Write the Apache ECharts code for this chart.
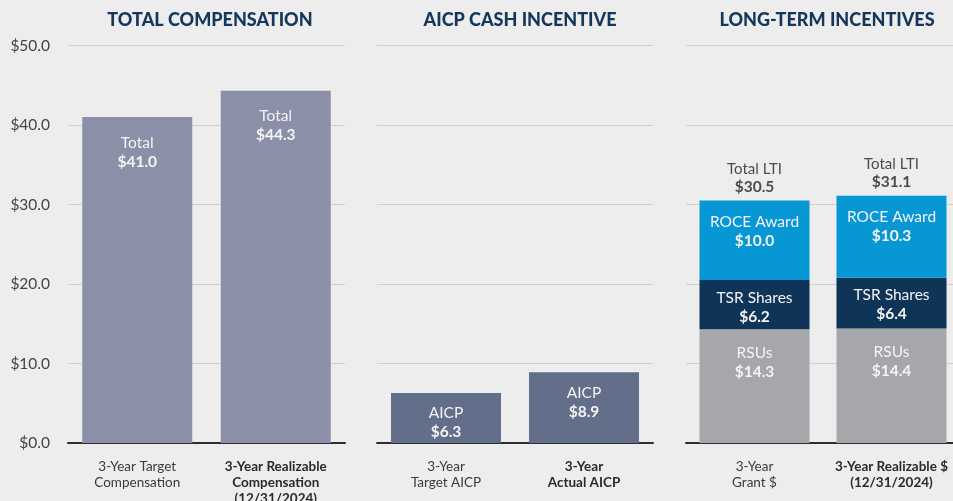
<!DOCTYPE html>
<html>
<head>
<meta charset="utf-8">
<script src="https://cdn.jsdelivr.net/npm/echarts@6/dist/echarts.min.js"></script>
<style>
  html, body { margin: 0; padding: 0; background: #ededed; }
  #chart { width: 953px; height: 501px; }
</style>
</head>
<body>
<div id="chart"></div>
<script>
// panel titles
var panelTitles = ['TOTAL COMPENSATION', 'AICP CASH INCENTIVE', 'LONG-TERM INCENTIVES'];

// total compensation
var compCats = ['3-Year Target\nCompensation', '3-Year Realizable\nCompensation\n(12/31/2024)'];
var compValues = [41.0, 44.3];

// aicp
var aicpCats = ['3-Year\nTarget AICP', '3-Year\nActual AICP'];
var aicpValues = [6.3, 8.9];

// long-term incentives
var ltiCats = ['3-Year\nGrant $', '3-Year Realizable $\n(12/31/2024)'];
var rsuValues = [14.3, 14.4];
var tsrValues = [6.2, 6.4];
var roceValues = [10.0, 10.3];
var ltiTotals = [30.5, 31.1];

var yTicks = [0, 10, 20, 30, 40, 50];

var FONT = 'Lato';
var grids = [
  { left: 68, width: 277, top: 45.5, bottom: 58, outerBoundsMode: 'none' },
  { left: 377, width: 276, top: 45.5, bottom: 58, outerBoundsMode: 'none' },
  { left: 686, width: 274, top: 45.5, bottom: 58, outerBoundsMode: 'none' }
];
var titleX = [205, 515, 822];

function money(v) { return '$' + v.toFixed(1); }

// bold text for the "realizable / actual" category (index 1)
function catLabel(value, index) {
  var tag = index == 1 ? 'b' : 'a';
  return value.split('\n').map(function (s) { return '{' + tag + '|' + s + '}'; }).join('\n');
}

function xAxisFor(i, cats) {
  return {
    type: 'category', gridIndex: i, data: cats,
    axisTick: { show: false },
    axisLine: { lineStyle: { color: '#2e2e2e', width: 2 } },
    axisLabel: {
      interval: 0, margin: 16, formatter: catLabel, hideOverlap: false,
      rich: {
        a: { fontFamily: FONT, fontSize: 13.5, color: '#3a3a3a', lineHeight: 16 },
        b: { fontFamily: FONT, fontSize: 13.5, fontWeight: 'bold', color: '#2a2a2a', lineHeight: 16 }
      }
    }
  };
}

function yAxisFor(i) {
  return {
    type: 'value', gridIndex: i, min: yTicks[0], max: yTicks[yTicks.length - 1], interval: 10,
    axisLine: { show: false }, axisTick: { show: false },
    axisLabel: {
      show: i == 0, margin: 18, fontFamily: FONT, fontSize: 15.5, color: '#444',
      formatter: function (v) { return money(v); }
    },
    splitLine: { lineStyle: { color: '#cfcfcf', width: 1 } }
  };
}

function innerLabel(name, dist) {
  return {
    show: true, position: 'insideTop', distance: dist,
    formatter: function (p) { return '{a|' + name + '}\n{b|' + money(p.value) + '}'; },
    rich: {
      a: { fontFamily: FONT, fontSize: 15.5, color: '#f4f4f4', lineHeight: 19 },
      b: { fontFamily: FONT, fontSize: 15.5, fontWeight: 'bold', color: '#f4f4f4', lineHeight: 19 }
    }
  };
}

var chart = echarts.init(document.getElementById('chart'));

var option = {
  backgroundColor: '#ededed',
  animation: false,
  title: panelTitles.map(function (t, i) {
    return {
      text: t, left: titleX[i], top: 6, textAlign: 'center',
      textStyle: { fontFamily: FONT, fontSize: 18, fontWeight: 900, color: '#15375b' }
    };
  }),
  grid: grids,
  xAxis: [xAxisFor(0, compCats), xAxisFor(1, aicpCats), xAxisFor(2, ltiCats)],
  yAxis: [yAxisFor(0), yAxisFor(1), yAxisFor(2)],
  series: [
    {
      type: 'bar', xAxisIndex: 0, yAxisIndex: 0, data: compValues, barWidth: 110,
      itemStyle: { color: '#8b8fa7' }, label: innerLabel('Total', 16)
    },
    {
      type: 'bar', xAxisIndex: 1, yAxisIndex: 1, data: aicpValues, barWidth: 110,
      itemStyle: { color: '#636e8b' }, label: innerLabel('AICP', 11)
    },
    {
      name: 'RSUs', type: 'bar', stack: 'lti', xAxisIndex: 2, yAxisIndex: 2, data: rsuValues, barWidth: 110,
      itemStyle: { color: '#a6a7ab' }, label: innerLabel('RSUs', 14)
    },
    {
      name: 'TSR Shares', type: 'bar', stack: 'lti', xAxisIndex: 2, yAxisIndex: 2, data: tsrValues, barWidth: 110,
      itemStyle: { color: '#0e3558' }, label: innerLabel('TSR Shares', 8)
    },
    {
      name: 'ROCE Award', type: 'bar', stack: 'lti', xAxisIndex: 2, yAxisIndex: 2, data: roceValues, barWidth: 110,
      itemStyle: { color: '#0797d5' }, label: innerLabel('ROCE Award', 12)
    },
    {
      // total labels above the stacks
      type: 'scatter', xAxisIndex: 2, yAxisIndex: 2, data: ltiTotals, symbolSize: 1,
      itemStyle: { color: 'rgba(0,0,0,0)' },
      label: {
        show: true, position: 'top', distance: 4,
        formatter: function (p) { return '{a|Total LTI}\n{b|' + money(p.value) + '}'; },
        rich: {
          a: { fontFamily: FONT, fontSize: 15, color: '#222', lineHeight: 18 },
          b: { fontFamily: FONT, fontSize: 15.5, fontWeight: 'bold', color: '#222', lineHeight: 18 }
        }
      }
    }
  ]
};

chart.setOption(option);
</script>
</body>
</html>
